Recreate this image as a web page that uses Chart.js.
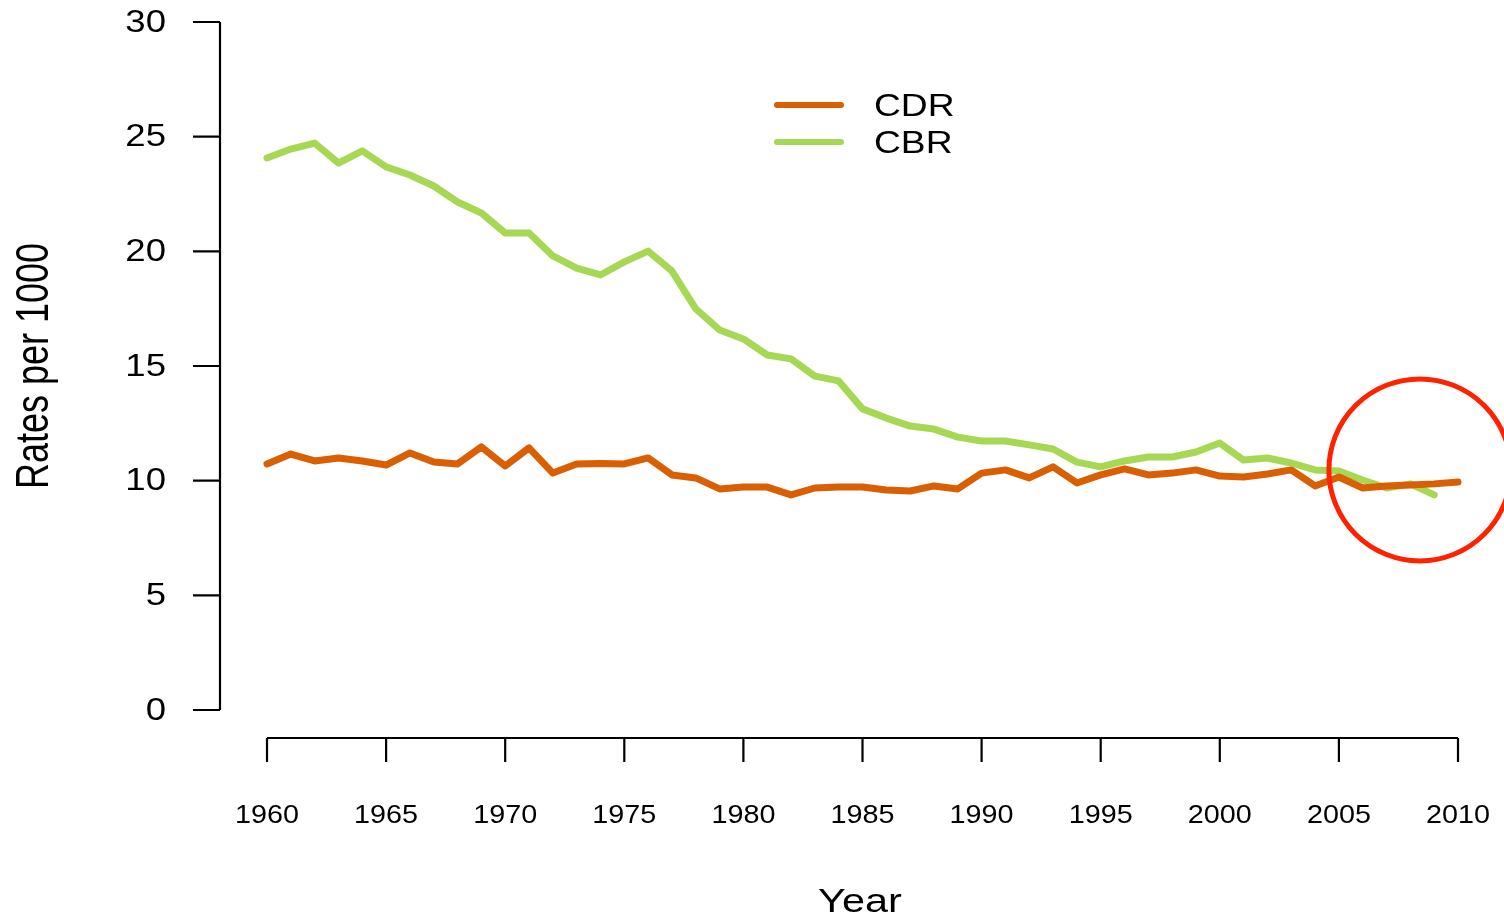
<!DOCTYPE html>
<html>
<head>
<meta charset="utf-8">
<script src="https://cdn.jsdelivr.net/npm/chart.js@4/dist/chart.umd.min.js"></script>
<style>
  html, body { margin: 0; padding: 0; background: #fff; }
  #wrap { width: 1504px; height: 920px; position: relative; }
</style>
</head>
<body>
<div id="wrap"><canvas id="chart"></canvas></div>
<script>
const years = [];
for (let y = 1960; y <= 2010; y++) years.push(y);

// crude death rate, 1960-2010
const cdr = [10.73, 11.16, 10.86, 10.99, 10.86, 10.68, 11.21, 10.81, 10.73, 11.47,
             10.64, 11.43, 10.33, 10.73, 10.75, 10.73, 10.99, 10.25, 10.12, 9.64,
             9.72, 9.72, 9.38, 9.68, 9.72, 9.72, 9.59, 9.55, 9.77, 9.64,
             10.33, 10.47, 10.12, 10.60, 9.90, 10.25, 10.51, 10.25, 10.33, 10.47,
             10.20, 10.16, 10.29, 10.47, 9.77, 10.16, 9.68, 9.77, 9.81, 9.86,
             9.94];
// crude birth rate, 1960-2009
const cbr = [24.07, 24.46, 24.72, 23.85, 24.38, 23.68, 23.33, 22.85, 22.15, 21.67,
             20.80, 20.80, 19.80, 19.27, 18.97, 19.54, 20.01, 19.14, 17.49, 16.57,
             16.18, 15.48, 15.31, 14.56, 14.35, 13.13, 12.73, 12.38, 12.25, 11.90,
             11.73, 11.73, 11.56, 11.38, 10.81, 10.60, 10.86, 11.03, 11.03, 11.25,
             11.64, 10.90, 10.99, 10.77, 10.47, 10.42, 10.03, 9.68, 9.86, 9.38];

const xTicks = [1960, 1965, 1970, 1975, 1980, 1985, 1990, 1995, 2000, 2005, 2010];
const yTicks = [0, 5, 10, 15, 20, 25, 30];
const highlight = { x: 2008.4, y: 10.47 };

const FONT = '"Liberation Sans", Arial, Helvetica, sans-serif';

function stretchedText(ctx, text, x, y, size, sx, align, baseline) {
    ctx.save();
    ctx.translate(x, y);
    ctx.scale(sx, 1);
    ctx.font = size + 'px ' + FONT;
    ctx.textAlign = align;
    ctx.textBaseline = baseline;
    ctx.fillText(text, 0, 0);
    ctx.restore();
}

// R style axes, legend and the red circle
const baseGraphics = {
    id: 'baseGraphics',
    afterDatasetsDraw(chart) {
        const ctx = chart.ctx;
        const xs = chart.scales.x;
        const ys = chart.scales.y;
        ctx.save();
        ctx.strokeStyle = '#000';
        ctx.fillStyle = '#000';
        ctx.lineWidth = 2.2;
        ctx.lineCap = 'butt';

        // y axis
        const yAxisX = 220;
        ctx.beginPath();
        ctx.moveTo(yAxisX, ys.getPixelForValue(yTicks[0]));
        ctx.lineTo(yAxisX, ys.getPixelForValue(yTicks[yTicks.length - 1]));
        yTicks.forEach(t => {
            const py = ys.getPixelForValue(t);
            ctx.moveTo(yAxisX, py);
            ctx.lineTo(yAxisX - 27, py);
        });
        ctx.stroke();
        yTicks.forEach(t => {
            stretchedText(ctx, String(t), 166, ys.getPixelForValue(t) + 1, 31, 1.18, 'right', 'middle');
        });

        // x axis
        const xAxisY = 738;
        ctx.beginPath();
        ctx.moveTo(xs.getPixelForValue(xTicks[0]), xAxisY);
        ctx.lineTo(xs.getPixelForValue(xTicks[xTicks.length - 1]), xAxisY);
        xTicks.forEach(t => {
            const px = xs.getPixelForValue(t);
            ctx.moveTo(px, xAxisY);
            ctx.lineTo(px, xAxisY + 24);
        });
        ctx.stroke();
        xTicks.forEach(t => {
            stretchedText(ctx, String(t), xs.getPixelForValue(t), 823, 25, 1.15, 'center', 'alphabetic');
        });

        // axis titles
        stretchedText(ctx, 'Year', 860, 912, 34, 1.22, 'center', 'alphabetic');
        ctx.save();
        ctx.translate(48, 366);
        ctx.scale(1.3, 1);
        ctx.rotate(-Math.PI / 2);
        ctx.font = '36px ' + FONT;
        ctx.textAlign = 'center';
        ctx.textBaseline = 'alphabetic';
        ctx.fillText('Rates per 1000', 0, 0);
        ctx.restore();

        // legend
        const legendY = [105, 142];
        chart.data.datasets.forEach((ds, i) => {
            ctx.beginPath();
            ctx.strokeStyle = ds.borderColor;
            ctx.lineWidth = 6;
            ctx.lineCap = 'round';
            ctx.moveTo(777, legendY[i]);
            ctx.lineTo(841, legendY[i]);
            ctx.stroke();
            ctx.fillStyle = '#000';
            stretchedText(ctx, ds.label, 874, legendY[i] + 2, 31, 1.2, 'left', 'middle');
        });

        // red circle around the crossing
        ctx.beginPath();
        ctx.strokeStyle = '#FF2200';
        ctx.lineWidth = 5;
        ctx.arc(xs.getPixelForValue(highlight.x), ys.getPixelForValue(highlight.y), 91, 0, Math.PI * 2);
        ctx.stroke();
        ctx.restore();
    }
};

new Chart(document.getElementById('chart'), {
    type: 'line',
    data: {
        labels: years,
        datasets: [
            {
                label: 'CDR',
                data: cdr.map((v, i) => ({ x: years[i], y: v })),
                borderColor: '#D95F02',
                borderWidth: 7,
                pointRadius: 0,
                tension: 0,
                borderJoinStyle: 'round',
                borderCapStyle: 'round',
                clip: false
            },
            {
                label: 'CBR',
                data: cbr.map((v, i) => ({ x: years[i], y: v })),
                borderColor: '#A6D854',
                borderWidth: 7,
                pointRadius: 0,
                tension: 0,
                borderJoinStyle: 'round',
                borderCapStyle: 'round',
                clip: false
            }
        ]
    },
    options: {
        responsive: true,
        maintainAspectRatio: false,
        animation: false,
        layout: { padding: { left: 267, right: 46, top: 22, bottom: 210 } },
        scales: {
            x: { type: 'linear', min: 1960, max: 2010, display: false },
            y: { min: 0, max: 30, display: false }
        },
        plugins: {
            legend: { display: false },
            tooltip: { enabled: false }
        }
    },
    plugins: [baseGraphics]
});
</script>
</body>
</html>
